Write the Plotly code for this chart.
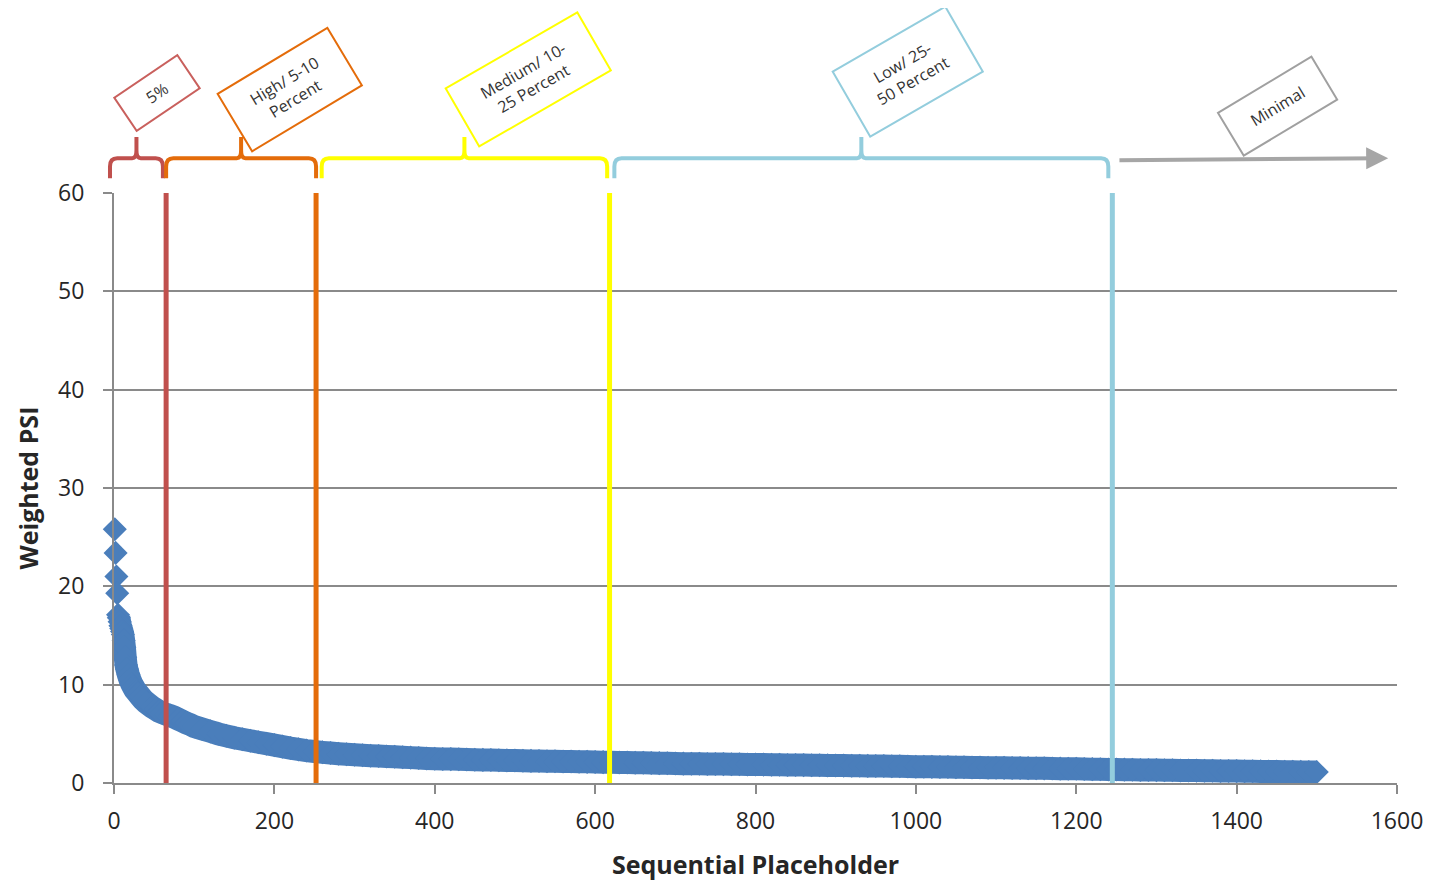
import plotly.graph_objects as go

# ---------------- data ----------------
seq_x = [1, 2, 3, 4, 5, 6, 7, 8, 9, 10, 11, 12, 13, 14, 15, 16, 18, 20, 22, 24, 26, 28, 30,
         33, 36, 40, 44, 48, 52, 56, 60, 65, 70, 75, 80, 85, 90, 95, 100,
         110, 120, 130, 140, 150, 160, 170, 180, 190, 200, 210, 220, 230, 240, 250,
         260, 270, 280, 290, 300, 310, 320, 330, 340, 350, 360, 370, 380, 390, 400,
         410, 420, 430, 440, 450, 460, 470, 480, 490, 500, 510, 520, 530, 540, 550,
         560, 570, 580, 590, 600, 610, 620, 630, 640, 650, 660, 670, 680, 690, 700,
         710, 720, 730, 740, 750, 760, 770, 780, 790, 800, 810, 820, 830, 840, 850,
         860, 870, 880, 890, 900, 910, 920, 930, 940, 950, 960, 970, 980, 990, 1000,
         1010, 1020, 1030, 1040, 1050, 1060, 1070, 1080, 1090, 1100, 1110, 1120, 1130,
         1140, 1150, 1160, 1170, 1180, 1190, 1200, 1210, 1220, 1230, 1240, 1250, 1260,
         1270, 1280, 1290, 1300, 1310, 1320, 1330, 1340, 1350, 1360, 1370, 1380, 1390,
         1400, 1410, 1420, 1430, 1440, 1450, 1460, 1470, 1480, 1490, 1500]
psi = [25.8, 23.4, 21.0, 19.3, 17.1, 16.8, 16.4, 16.0, 15.7, 15.4, 15.1, 14.5, 13.8, 12.8, 12.0,
       11.6, 11.0, 10.5, 10.1, 9.8, 9.5, 9.3, 9.1,
       8.8, 8.5, 8.2, 7.95, 7.7, 7.5, 7.3, 7.15, 7.0, 6.85, 6.7, 6.5, 6.3, 6.1, 5.95, 5.75,
       5.5, 5.25, 5.0, 4.8, 4.6, 4.45, 4.3, 4.15, 4.0, 3.85, 3.7, 3.55, 3.42, 3.3, 3.2,
       3.12, 3.05, 2.98, 2.92, 2.87, 2.82, 2.78, 2.74, 2.7, 2.66, 2.62, 2.58, 2.54, 2.5, 2.47,
       2.45, 2.43, 2.41, 2.39, 2.37, 2.35, 2.33, 2.31, 2.3, 2.28, 2.27, 2.25, 2.24, 2.22, 2.21,
       2.19, 2.18, 2.16, 2.15, 2.13, 2.12, 2.1, 2.09, 2.08, 2.06, 2.05, 2.03, 2.02, 2.0, 1.98,
       1.97, 1.96, 1.95, 1.94, 1.93, 1.92, 1.91, 1.9, 1.89, 1.88, 1.87, 1.86, 1.85, 1.84, 1.83,
       1.82, 1.81, 1.8, 1.79, 1.78, 1.77, 1.76, 1.75, 1.74, 1.73, 1.72, 1.71, 1.7, 1.68, 1.66,
       1.65, 1.64, 1.63, 1.62, 1.61, 1.6, 1.58, 1.57, 1.56, 1.55, 1.54, 1.53, 1.52,
       1.51, 1.5, 1.49, 1.48, 1.46, 1.45, 1.44, 1.42, 1.41, 1.4, 1.38, 1.37, 1.36,
       1.35, 1.33, 1.32, 1.31, 1.3, 1.29, 1.28, 1.27, 1.26, 1.25, 1.24, 1.23, 1.22,
       1.21, 1.2, 1.19, 1.18, 1.17, 1.16, 1.15, 1.14, 1.13, 1.12, 1.11, 1.1, 1.09,
       1.08, 1.08, 1.07, 1.07, 1.06, 1.06, 1.05]

# tier boundaries (x positions of the vertical lines)
boundaries = [65, 252, 618, 1245]
tier_colors = ["#C0504D", "#E46C0A", "#FFFF00", "#93CDDD"]
tier_labels = ["5%", "High/ 5-10<br>Percent", "Medium/ 10-<br>25 Percent",
               "Low/ 25-<br>50 Percent", "Minimal"]
bracket_start = [-5, 65, 259, 624]
bracket_end = [61, 252, 615, 1240]
arrow_start, arrow_end = 1252, 1589

X_RANGE = [0, 1600]
Y_RANGE = [0, 60]

BLUE = "#4A7EBB"
GRID = "#8A8A8A"
FONT = "Open Sans"
TXT = "#262626"


def xp(v):
    """data x -> paper x (for decorations drawn outside the plot area)"""
    return (v - X_RANGE[0]) / (X_RANGE[1] - X_RANGE[0])


fig = go.Figure()

# smooth band through the dense part of the series
line_from = 5
fig.add_trace(go.Scatter(
    x=seq_x[line_from:], y=psi[line_from:], mode="lines",
    line=dict(color=BLUE, width=23, simplify=False), hoverinfo="skip", showlegend=False,
    cliponaxis=False))
fig.add_trace(go.Scatter(
    x=seq_x, y=psi, mode="markers",
    marker=dict(symbol="diamond", size=18.5, color=BLUE, line=dict(width=0)),
    showlegend=False, cliponaxis=False))

shapes = []
# vertical tier lines
for b, c in zip(boundaries, tier_colors):
    shapes.append(dict(type="line", xref="x", yref="y", x0=b, x1=b, y0=0, y1=60,
                       line=dict(color=c, width=5), layer="above"))

# curly brackets above the plot
yb_end = 1.025   # lower tip of bracket
yb_h = 1.059     # horizontal part
yb_pk = 1.095    # central peak
ry = 0.014
rx = 9
for s, e, c in zip(bracket_start, bracket_end, tier_colors):
    m = (s + e) / 2
    S, E, M = xp(s), xp(e), xp(m)
    RX, RM = xp(rx), xp(rx * 0.6)
    path = (f"M {S},{yb_end} L {S},{yb_h - ry} Q {S},{yb_h} {S + RX},{yb_h} "
            f"L {M - RM},{yb_h} Q {M},{yb_h} {M},{yb_h + ry} L {M},{yb_pk} "
            f"M {M},{yb_h + ry} Q {M},{yb_h} {M + RM},{yb_h} "
            f"L {E - RX},{yb_h} Q {E},{yb_h} {E},{yb_h - ry} L {E},{yb_end}")
    shapes.append(dict(type="path", xref="paper", yref="paper", path=path,
                       line=dict(color=c, width=4), layer="above"))

annotations = []
# arrow for "Minimal"
annotations.append(dict(x=arrow_end, y=1.059, xref="x", yref="paper",
                        ax=arrow_start, ay=2, axref="x", ayref="pixel",
                        showarrow=True, arrowhead=2, arrowsize=1.1, arrowwidth=4,
                        arrowcolor="#A6A6A6", text=""))

# rotated label boxes
box_x = [0.0335, 0.1372, 0.3227, 0.6189, 0.9072]
box_y = [1.1695, 1.1746, 1.1932, 1.2051, 1.1475]
box_w = [72, 124, 148, 126, 105]
box_h = [36, 63, 63, 71, 46]
box_ang = [-34, -31, -30, -30, -31]
box_col = ["#C9605D", "#E46C0A", "#FFFF00", "#93CDDD", "#A0A0A0"]
for lab, bx, by, bw, bh, ang, bc in zip(tier_labels, box_x, box_y, box_w, box_h, box_ang, box_col):
    annotations.append(dict(x=bx, y=by, xref="paper", yref="paper", text=lab,
                            showarrow=False, textangle=ang, width=bw, height=bh,
                            align="center", valign="middle",
                            bordercolor=bc, borderwidth=2, borderpad=1, bgcolor="white",
                            font=dict(family=FONT, size=16, color="#333333"),
                            xanchor="center", yanchor="middle"))

fig.update_layout(
    width=1427, height=879,
    margin=dict(l=106, r=38, t=185, b=104),
    plot_bgcolor="white", paper_bgcolor="white",
    font=dict(family=FONT, size=23, color=TXT),
    shapes=shapes, annotations=annotations,
    showlegend=False,
    xaxis=dict(range=X_RANGE, dtick=200, tick0=0, showgrid=False, zeroline=False,
               showline=True, linecolor=GRID, linewidth=2,
               ticks="outside", ticklen=9, tickwidth=2, tickcolor=GRID,
               ticklabelstandoff=7,
               tickfont=dict(family=FONT, size=23, color=TXT),
               title=dict(text="<b>Sequential Placeholder</b>", standoff=22,
                          font=dict(family=FONT, size=25, color=TXT))),
    yaxis=dict(range=Y_RANGE, dtick=10, tick0=0, showgrid=True, gridcolor=GRID, gridwidth=2,
               zeroline=False, showline=True, linecolor=GRID, linewidth=2,
               ticks="outside", ticklen=9, tickwidth=2, tickcolor=GRID,
               ticklabelstandoff=14,
               tickfont=dict(family=FONT, size=23, color=TXT),
               title=dict(text="<b>Weighted PSI</b>", standoff=12,
                          font=dict(family=FONT, size=25, color=TXT))),
)

fig.write_html("out.html")
